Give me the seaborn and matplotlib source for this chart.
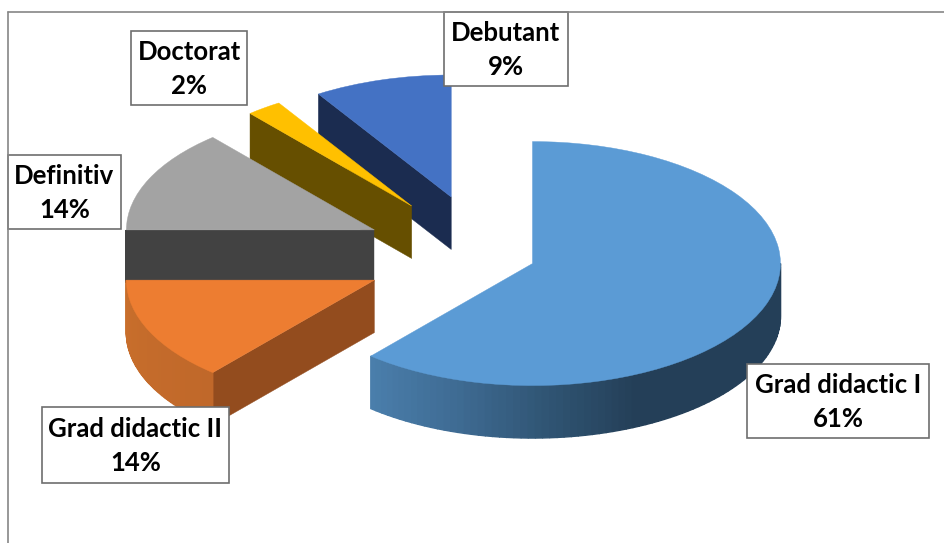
import numpy as np
import seaborn as sns
import matplotlib.pyplot as plt
from matplotlib.colors import LinearSegmentedColormap
from matplotlib.lines import Line2D
from matplotlib.patches import Polygon, Rectangle

sns.set_theme(style="white")
plt.rcParams['font.family'] = ['Lato', 'DejaVu Sans']

categories = ["Grad didactic I", "Grad didactic II", "Definitiv", "Doctorat", "Debutant"]
values = [61.3, 13.7, 13.7, 2.3, 9.0]
explode = [0.202, 0.493, 0.493, 0.5, 0.495]

top_colors = sns.color_palette(["#5b9bd5", "#ed7d31", "#a3a3a3", "#ffc000", "#4472c4"])
cut_colors = ["#243f58", "#934c1e", "#424242", "#664f00", "#1b2c50"]
# rim shading, left to right
rim_colors = [["#4a7eab", "#3f6c94", "#305574", "#243f58", "#243f58", "#243f58", "#243f58"],
              ["#c96f2c", "#c0682a"], ["#424242"], ["#664f00"], ["#1b2c50"]]

# label boxes as left, top, right, bottom in pixels
boxes = [(747, 364, 929, 438), (42, 407, 229, 483), (8, 155, 121, 229),
         (131, 31, 247, 105), (444, 12, 568, 86)]

W, H = 945, 543
RX, RY = 248, 122
X0, Y0 = 485.5, 255
DEPTH = 52.5 / RY


def point(center, angle):
    a = np.radians(angle)
    return np.array([center[0] + np.cos(a), center[1] + np.sin(a)])


def extrude(ax, p, q, color, z, lw=0.3):
    pts = [p, q, q - [0, DEPTH], p - [0, DEPTH]]
    ax.add_patch(Polygon(pts, closed=True, fc=color, ec=color, lw=lw, zorder=z))


def draw_sides(ax, wedge, cut, rim, z):
    c = np.array(wedge.center)
    # cut faces, only those turned towards the viewer
    if np.sin(np.radians(wedge.theta1 - 90)) < -1e-6:
        extrude(ax, c, point(c, wedge.theta1), cut, z)
    if np.sin(np.radians(wedge.theta2 + 90)) < -1e-6:
        extrude(ax, c, point(c, wedge.theta2), cut, z)
    # outer rim: lower half of the ellipse only
    a1 = max(wedge.theta1, -180)
    a2 = min(wedge.theta2, 0)
    if a2 <= a1:
        return
    colors = rim if len(rim) > 1 else rim * 2
    cmap = LinearSegmentedColormap.from_list("rim", colors)
    angles = np.linspace(a1, a2, 80)
    for i in range(len(angles) - 1):
        col = cmap(i / (len(angles) - 2))
        extrude(ax, point(c, angles[i]), point(c, angles[i + 1]), col, z + 0.1, lw=1.0)


fig = plt.figure(figsize=(W / 100, H / 100), dpi=100)
ax = fig.add_axes([0, 0, 1, 1])
wedges, _ = ax.pie(values, explode=explode, colors=top_colors, startangle=90,
                   counterclock=False, radius=1)
ax.set_aspect('auto')
ax.set_xlim(-X0 / RX, (W - X0) / RX)
ax.set_ylim((Y0 - H) / RY, Y0 / RY)

# back slices first so the front ones cover them
order = [4, 3, 2, 1, 0]
for n, i in enumerate(order):
    z = 1 + n
    draw_sides(ax, wedges[i], cut_colors[i], rim_colors[i], z)
    wedges[i].set_zorder(z + 0.5)
    wedges[i].set_edgecolor(top_colors[i])
    wedges[i].set_linewidth(0.3)

# outer chart frame
frame = "#868686"
fig.add_artist(Line2D([8 / W, 8 / W], [0, 1 - 12 / H], color=frame, lw=1.2))
fig.add_artist(Line2D([8 / W, 1], [1 - 12 / H, 1 - 12 / H], color=frame, lw=1.2))

for name, v, (l, t, r, b) in zip(categories, values, boxes):
    ax.add_patch(Rectangle((l / W, 1 - b / H), (r - l) / W, (b - t) / H, transform=fig.transFigure,
                           fc="white", ec="#6e6e6e", lw=1.2, zorder=20))
    ax.text((l + r) / 2 / W, 1 - ((t + b) / 2 + 1.2) / H, f"{name}\n{round(v)}%", transform=fig.transFigure,
            ha='center', va='center', fontsize=18.5, fontweight='bold', color="black",
            linespacing=1.5, zorder=21)

fig.savefig("out.png", dpi=100)
